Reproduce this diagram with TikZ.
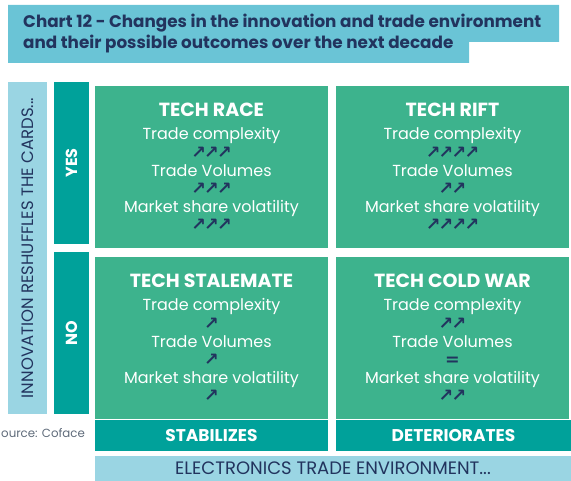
\documentclass[tikz,border=0pt]{standalone}
\usepackage{fontspec}
\setmainfont{Poppins}
\newfontfamily\arrowfont[LetterSpace=-10]{DejaVu Sans}
\usepackage{tikz}

\definecolor{titleblue}{HTML}{6AC4D6}
\definecolor{lightblue}{HTML}{9AD5E3}
\definecolor{darkteal}{HTML}{00A19A}
\definecolor{cellgreen}{HTML}{3DB38D}
\definecolor{navy}{HTML}{22345E}
\definecolor{srcgray}{HTML}{5F6B7A}

\newcommand{\arw}{\arrowfont\fontsize{17.5}{18.2}\selectfont\bfseries\color{navy}}
\newcommand{\hd}[1]{{\fontsize{19}{20}\selectfont\bfseries #1}\\[5pt]}

\tikzset{
  cell/.style={fill=cellgreen, minimum width=233pt, minimum height=162pt, inner sep=0pt,
    text=white, align=center, font=\fontsize{16}{18.2}\selectfont},
  sidebar/.style={fill=darkteal, rotate=90, minimum width=162pt, minimum height=35pt, inner sep=0pt,
    text=white, font=\fontsize{16}{18}\selectfont\bfseries},
  footbar/.style={fill=darkteal, minimum height=31pt, inner sep=0pt,
    text=white, font=\fontsize{17}{18}\selectfont\bfseries}
}

\begin{document}
\begin{tikzpicture}[x=1pt,y=-1pt]
    \useasboundingbox (0,0) rectangle (571,481);
    % title
    \fill[titleblue] (8,5) -- (559,5) -- (559,42) -- (469,42) -- (469,63) -- (8,63) -- cycle;
    \node[anchor=north west, align=left, inner sep=0pt, text=navy,
      font=\fontsize{16.8}{21.5}\selectfont\bfseries] (title) at (23,13.5)
      {Chart 12 - Changes in the innovation and trade environment\\and their possible outcomes over the next decade};
    % axis bars
    \node[fill=lightblue, rotate=90, minimum width=332pt, minimum height=39pt, inner sep=0pt,
      text=navy, font=\fontsize{16.5}{18}\selectfont] (innov) at (27.5,248) {INNOVATION RESHUFFLES THE CARDS...};
    \node[sidebar] (yes) at (71.5,163) {YES};
    \node[sidebar] (no) at (71.5,333) {NO};
    % cells
    \node[cell] (race) at (211.5,167) {\hd{TECH RACE}
      Trade complexity\\ {\arw ↗↗↗}\\ Trade Volumes\\ {\arw ↗↗↗}\\ Market share volatility\\ {\arw ↗↗↗}};
    \node[cell] (rift) at (452.5,167) {\hd{TECH RIFT}
      Trade complexity\\ {\arw ↗↗↗↗}\\ Trade Volumes\\ {\arw ↗↗}\\ Market share volatility\\ {\arw ↗↗↗↗}};
    \node[cell] (stalemate) at (211.5,338) {\hd{TECH STALEMATE}
      Trade complexity\\ {\arw ↗}\\ Trade Volumes\\ {\arw ↗}\\ Market share volatility\\ {\arw ↗}};
    \node[cell] (coldwar) at (452.5,338) {\hd{TECH COLD WAR}
      Trade complexity\\ {\arw ↗↗}\\ Trade Volumes\\ {\arw =}\\ Market share volatility\\ {\arw ↗↗}};
    % bottom
    \node[anchor=west, inner sep=0pt, text=srcgray, font=\fontsize{11.8}{14}\selectfont] (source) at (1,433) {ource: Coface};
    \node[footbar, minimum width=233pt] (stab) at (211.5,435.5) {STABILIZES};
    \node[footbar, minimum width=235pt] (deter) at (453.5,435.5) {DETERIORATES};
    \node[fill=lightblue, minimum width=476pt, minimum height=25pt, inner sep=0pt,
      text=navy, font=\fontsize{18}{18}\selectfont] (elec) at (333,468.5) {ELECTRONICS TRADE ENVIRONMENT...};
\end{tikzpicture}
\end{document}
